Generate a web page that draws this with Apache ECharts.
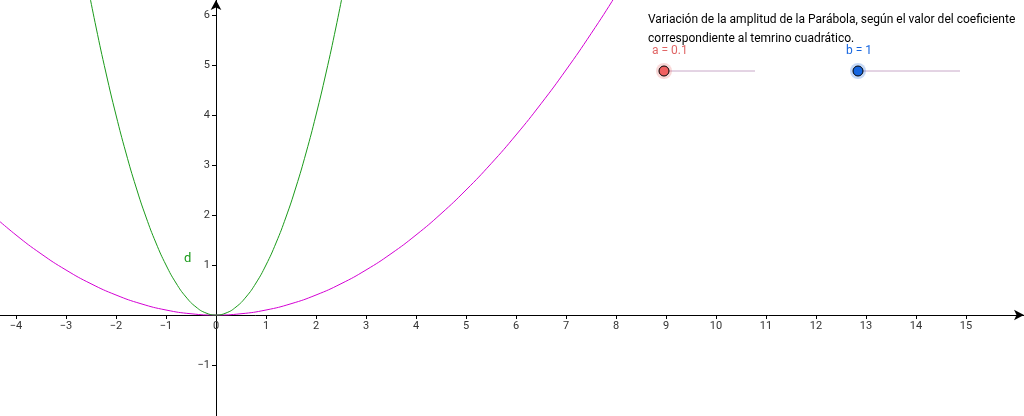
<!DOCTYPE html>
<html><head><meta charset="utf-8">
<script src="https://cdn.jsdelivr.net/npm/echarts@6/dist/echarts.min.js"></script>
<style>html,body{margin:0;padding:0;background:#fff}#c{width:1024px;height:416px}</style>
</head><body><div id="c"></div>
<script>
// f(x) = 0.1 x^2 (magenta), d(x) = x^2 (green), values read/typed as samples
const magentaX = [-4.5,-4,-3.5,-3,-2.5,-2,-1.5,-1,-0.5,0,0.5,1,1.5,2,2.5,3,3.5,4,4.5,5,5.5,6,6.5,7,7.5,8,8.5];
const magentaY = [2.025,1.6,1.225,0.9,0.625,0.4,0.225,0.1,0.025,0,0.025,0.1,0.225,0.4,0.625,0.9,1.225,1.6,2.025,2.5,3.025,3.6,4.225,4.9,5.625,6.4,7.225];
const greenX = [-2.6,-2.4,-2.2,-2,-1.8,-1.6,-1.4,-1.2,-1,-0.8,-0.6,-0.4,-0.2,0,0.2,0.4,0.6,0.8,1,1.2,1.4,1.6,1.8,2,2.2,2.4,2.6];
const greenY = [6.76,5.76,4.84,4,3.24,2.56,1.96,1.44,1,0.64,0.36,0.16,0.04,0,0.04,0.16,0.36,0.64,1,1.44,1.96,2.56,3.24,4,4.84,5.76,6.76];
const xTicks = [-4,-3,-2,-1,0,1,2,3,4,5,6,7,8,9,10,11,12,13,14,15];
const yTicks = [-1,1,2,3,4,5,6];
const sliderA = 'a = 0.1', sliderB = 'b = 1';

const chart = echarts.init(document.getElementById('c'));
const lbl = {color:'#333', fontSize:11, fontFamily:'Roboto'};
chart.setOption({
  animation:false,
  grid:{left:0,right:0,top:0,bottom:0,containLabel:false,outerBoundsMode:'none'},
  xAxis:{type:'value',min:-4.32,max:16.16,position:'bottom',offset:-101,
    axisLine:{onZero:false,lineStyle:{color:'#000'},symbol:['none','arrow'],symbolSize:[8,10]},
    axisTick:{show:true,customValues:xTicks,length:4,inside:false,lineStyle:{color:'#000'}},
    axisLabel:{...lbl,customValues:xTicks,margin:6,hideOverlap:false,showMinLabel:true,showMaxLabel:true,formatter:v=>v===0?'0':String(v).replace('-','−')},
    splitLine:{show:false}},
  yAxis:{type:'value',min:-2.02,max:6.3,position:'left',offset:-216,
    axisLine:{onZero:false,lineStyle:{color:'#000'},symbol:['none','arrow'],symbolSize:[8,10]},
    axisTick:{show:true,customValues:yTicks,length:4,lineStyle:{color:'#000'}},
    axisLabel:{...lbl,customValues:yTicks,margin:6,hideOverlap:false,formatter:v=>String(v).replace('-','−')},
    splitLine:{show:false}},
  series:[
    {type:'line',data:magentaX.map((x,i)=>[x,magentaY[i]]),smooth:true,symbol:'none',clip:true,lineStyle:{color:'#d400d4',width:1}},
    {type:'line',data:greenX.map((x,i)=>[x,greenY[i]]),smooth:true,symbol:'none',clip:true,lineStyle:{color:'#1a9a1a',width:1}}
  ],
  graphic:[
    {type:'text',left:648,top:10,style:{text:'Variación de la amplitud de la Parábola, según el valor del coeficiente\ncorrespondiente al temrino cuadrático.',fill:'#000',font:'12px Roboto',lineHeight:19}},
    {type:'text',left:652,top:45,style:{text:sliderA,fill:'#e06666',font:'12px Roboto'}},
    {type:'line',shape:{x1:664,y1:71,x2:755,y2:71},style:{stroke:'#c8a8c8',lineWidth:1}},
    {type:'circle',shape:{cx:664,cy:71,r:8},style:{fill:'rgba(230,100,100,0.25)'}},
    {type:'circle',shape:{cx:664,cy:71,r:5},style:{fill:'#f06060',stroke:'#000',lineWidth:1}},
    {type:'text',left:846,top:45,style:{text:sliderB,fill:'#1565e0',font:'12px Roboto'}},
    {type:'line',shape:{x1:858,y1:71,x2:960,y2:71},style:{stroke:'#c8a8c8',lineWidth:1}},
    {type:'circle',shape:{cx:858,cy:71,r:8},style:{fill:'rgba(21,101,224,0.25)'}},
    {type:'circle',shape:{cx:858,cy:71,r:5},style:{fill:'#1565e0',stroke:'#000',lineWidth:1}},
    {type:'text',left:184,top:252,style:{text:'d',fill:'#1a9a1a',font:'13px Roboto'}}
  ]
});
</script></body></html>
